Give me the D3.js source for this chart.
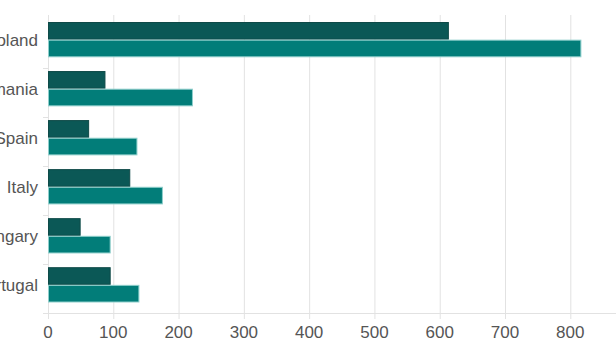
<!DOCTYPE html>
<html>
<head>
<meta charset="utf-8">
<script src="https://cdn.jsdelivr.net/npm/d3@7"></script>
<style>
  body { margin: 0; background: #fff; }
  svg { display: block; font-family: "Liberation Sans", Arial, sans-serif; }
</style>
</head>
<body>
<svg></svg>
<script>
var width = 616, height = 346;

var countries = ['Poland', 'Romania', 'Spain', 'Italy', 'Hungary', 'Portugal'];
var seriesNames = ['first', 'second'];
var firstValues = [614, 88, 63, 126, 50, 96];
var secondValues = [817, 222, 137, 176, 96, 140];
var xTicks = [0, 100, 200, 300, 400, 500, 600, 700, 800];

var colors = ['#0b5856', '#027d79'];
var strokes = ['#0f4a48', '#8fcfcc'];

var rows = countries.map((c, i) => ({country: c, values: [firstValues[i], secondValues[i]]}));

var svg = d3.select('svg')
    .attr('width', width)
    .attr('height', height);

var x = d3.scaleLinear()
    .domain([0, 870])
    .range([48, 616]);

var y = d3.scaleBand()
    .domain(countries)
    .range([22, 302.5])
    .paddingInner(0.28)
    .paddingOuter(0);

var ySub = d3.scaleBand()
    .domain(seriesNames)
    .range([0, y.bandwidth()]);

var axisY = 313;

// vertical grid
svg.append('g')
    .selectAll('line')
    .data(xTicks)
    .enter()
    .append('line')
        .attr('x1', d => x(d) + 0.5)
        .attr('x2', d => x(d) + 0.5)
        .attr('y1', 15)
        .attr('y2', 319)
        .attr('stroke', '#e2e2e2')
        .attr('stroke-width', 1);

// bottom axis line
svg.append('line')
    .attr('x1', 43)
    .attr('x2', width)
    .attr('y1', axisY + 0.5)
    .attr('y2', axisY + 0.5)
    .attr('stroke', '#e2e2e2');

// left tick marks between groups
svg.append('g')
    .selectAll('line')
    .data(countries.slice(1))
    .enter()
    .append('line')
        .attr('x1', 43)
        .attr('x2', 48)
        .attr('y1', d => Math.round(y(d) - 3) + 0.5)
        .attr('y2', d => Math.round(y(d) - 3) + 0.5)
        .attr('stroke', '#e2e2e2');

// bars
var groups = svg.append('g')
    .selectAll('g')
    .data(rows)
    .enter()
    .append('g')
        .attr('transform', d => `translate(0,${y(d.country)})`);

groups.selectAll('rect')
    .data(d => d.values.map((v, i) => ({key: seriesNames[i], value: v, i: i})))
    .enter()
    .append('rect')
        .attr('x', x(0) + 0.5)
        .attr('y', d => ySub(d.key) + 0.5)
        .attr('width', d => x(d.value) - x(0) - 1)
        .attr('height', ySub.bandwidth() - 1)
        .attr('fill', d => colors[d.i])
        .attr('stroke', d => strokes[d.i])
        .attr('stroke-width', 1);

// category labels
svg.append('g')
    .selectAll('text')
    .data(countries)
    .enter()
    .append('text')
        .attr('x', 38)
        .attr('y', d => y(d) + y.bandwidth() / 2 + 2)
        .attr('text-anchor', 'end')
        .attr('dominant-baseline', 'middle')
        .attr('font-size', 17)
        .attr('fill', '#555')
        .text(d => d);

// x tick labels
svg.append('g')
    .selectAll('text')
    .data(xTicks)
    .enter()
    .append('text')
        .attr('x', d => x(d))
        .attr('y', 338)
        .attr('text-anchor', 'middle')
        .attr('font-size', 17)
        .attr('fill', '#555')
        .text(d => d);
</script>
</body>
</html>
